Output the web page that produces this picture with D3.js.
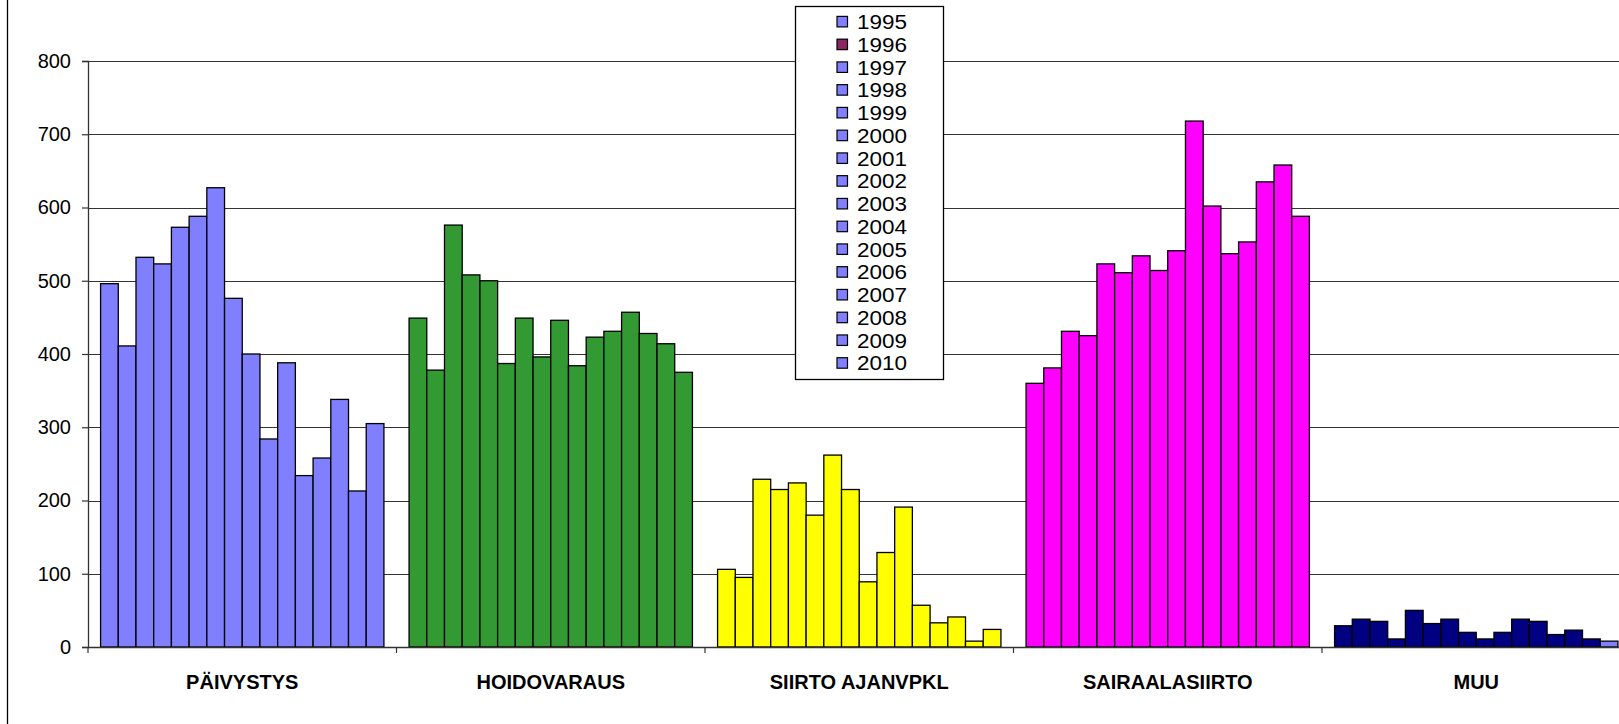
<!DOCTYPE html>
<html>
<head>
<meta charset="utf-8">
<script src="https://cdn.jsdelivr.net/npm/d3@7"></script>
<style>
  body { margin: 0; background: #fff; }
  svg { display: block; font-family: "Liberation Sans", Arial, sans-serif; }
</style>
</head>
<body>
<div id="wrapper"></div>
<script>
// data
const categories = ["PÄIVYSTYS", "HOIDOVARAUS", "SIIRTO AJANVPKL", "SAIRAALASIIRTO", "MUU"];
const years = ["1995", "1996", "1997", "1998", "1999", "2000", "2001", "2002",
               "2003", "2004", "2005", "2006", "2007", "2008", "2009", "2010"];

const paivystys      = [496, 411, 532, 523, 573, 588, 627, 476, 400, 284, 388, 234, 258, 338, 213, 305];
const hoidovaraus    = [449, 378, 576, 508, 500, 387, 449, 396, 446, 384, 423, 431, 457, 428, 414, 375];
const siirtoAjanvpkl = [106, 95, 229, 215, 224, 180, 262, 215, 89, 129, 191, 57, 33, 41, 8, 24];
const sairaalasiirto = [360, 381, 431, 425, 523, 511, 534, 514, 541, 718, 602, 537, 553, 635, 658, 588];
const muu            = [29, 38, 35, 11, 50, 32, 38, 20, 11, 20, 38, 35, 17, 23, 11, 8];

const yTicks = [0, 100, 200, 300, 400, 500, 600, 700, 800];

const seriesByCategory = [paivystys, hoidovaraus, siirtoAjanvpkl, sairaalasiirto, muu];

// colours
const categoryColors = ["#8080FF", "#339933", "#FFFF00", "#FF00FF", "#000080"];
const defaultYearColor = y => y === "1996" ? "#8B2660" : "#8080FF";

const width = 1619;
const height = 724;
const plot = { left: 88, top: 61, bottom: 647, right: 88 + 5 * 308.5 };

const svg = d3.select("#wrapper")
    .append("svg")
    .attr("width", width)
    .attr("height", height);

const yScale = d3.scaleLinear()
    .domain([0, 800])
    .range([plot.bottom, plot.top]);

const xScale = d3.scaleBand()
    .domain(categories)
    .range([plot.left, plot.right]);

const xInner = d3.scaleBand()
    .domain(years)
    .range([0, xScale.bandwidth()])
    .paddingInner(0)
    .paddingOuter(0.71);

// outer frame (only the left edge is in the picture)
svg.append("line")
    .attr("x1", 7.5).attr("x2", 7.5)
    .attr("y1", 0).attr("y2", height)
    .attr("stroke", "#000")
    .attr("stroke-width", 1.3);

// gridlines
svg.append("g")
    .selectAll("line")
    .data(yTicks.filter(d => d > 0))
    .join("line")
    .attr("x1", plot.left)
    .attr("x2", width)
    .attr("y1", d => Math.round(yScale(d)) + 0.5)
    .attr("y2", d => Math.round(yScale(d)) + 0.5)
    .attr("stroke", "#333")
    .attr("stroke-width", 1.2);

// bars
const rows = [];
categories.forEach((c, ci) => {
    years.forEach((y, yi) => {
        rows.push({ category: c, year: y, value: seriesByCategory[ci][yi], ci });
    });
});

svg.append("g")
    .selectAll("rect")
    .data(rows)
    .join("rect")
    .attr("x", d => xScale(d.category) + xInner(d.year))
    .attr("width", xInner.bandwidth())
    .attr("y", d => yScale(d.value))
    .attr("height", d => yScale(0) - yScale(d.value))
    .attr("fill", d => (d.category === "MUU" && d.year === "2010")
        ? defaultYearColor(d.year) : categoryColors[d.ci])
    .attr("stroke", "#000")
    .attr("stroke-width", 1.3);

// y axis
const yAxis = svg.append("g")
    .attr("transform", `translate(${plot.left},0)`)
    .call(d3.axisLeft(yScale).tickValues(yTicks).tickSize(6).tickPadding(11));
yAxis.select(".domain").attr("stroke", "#333").attr("stroke-width", 1.3);
yAxis.selectAll(".tick line").attr("stroke", "#333").attr("stroke-width", 1.2);
yAxis.selectAll(".tick text")
    .attr("font-family", "Liberation Sans, Arial, sans-serif")
    .attr("font-size", 20)
    .attr("fill", "#000");

// x axis
svg.append("line")
    .attr("x1", plot.left).attr("x2", width)
    .attr("y1", plot.bottom + 0.5).attr("y2", plot.bottom + 0.5)
    .attr("stroke", "#333")
    .attr("stroke-width", 1.3);

svg.append("g")
    .selectAll("line")
    .data(categories)
    .join("line")
    .attr("x1", d => xScale(d))
    .attr("x2", d => xScale(d))
    .attr("y1", plot.bottom)
    .attr("y2", plot.bottom + 6)
    .attr("stroke", "#333")
    .attr("stroke-width", 1.2);

svg.append("g")
    .selectAll("text")
    .data(categories)
    .join("text")
    .attr("x", d => xScale(d) + xScale.bandwidth() / 2)
    .attr("y", 689)
    .attr("text-anchor", "middle")
    .attr("font-size", 20)
    .attr("font-weight", "bold")
    .text(d => d);

// legend
const legend = svg.append("g");
legend.append("rect")
    .attr("x", 795.5).attr("y", 6.5)
    .attr("width", 148).attr("height", 373)
    .attr("fill", "#fff")
    .attr("stroke", "#000")
    .attr("stroke-width", 1.3);

const legendRow = d3.scaleLinear().domain([0, years.length - 1]).range([21.7, 363]);

const items = legend.selectAll("g.item")
    .data(years)
    .join("g")
    .attr("class", "item")
    .attr("transform", (d, i) => `translate(0,${legendRow(i)})`);

items.append("rect")
    .attr("x", 837).attr("y", -5.3)
    .attr("width", 10.5).attr("height", 10.5)
    .attr("fill", d => defaultYearColor(d))
    .attr("stroke", "#000")
    .attr("stroke-width", 1.2);

items.append("text")
    .attr("x", 857)
    .attr("y", 7.3)
    .attr("font-size", 20)
    .attr("textLength", 50)
    .attr("lengthAdjust", "spacingAndGlyphs")
    .text(d => d);
</script>
</body>
</html>
